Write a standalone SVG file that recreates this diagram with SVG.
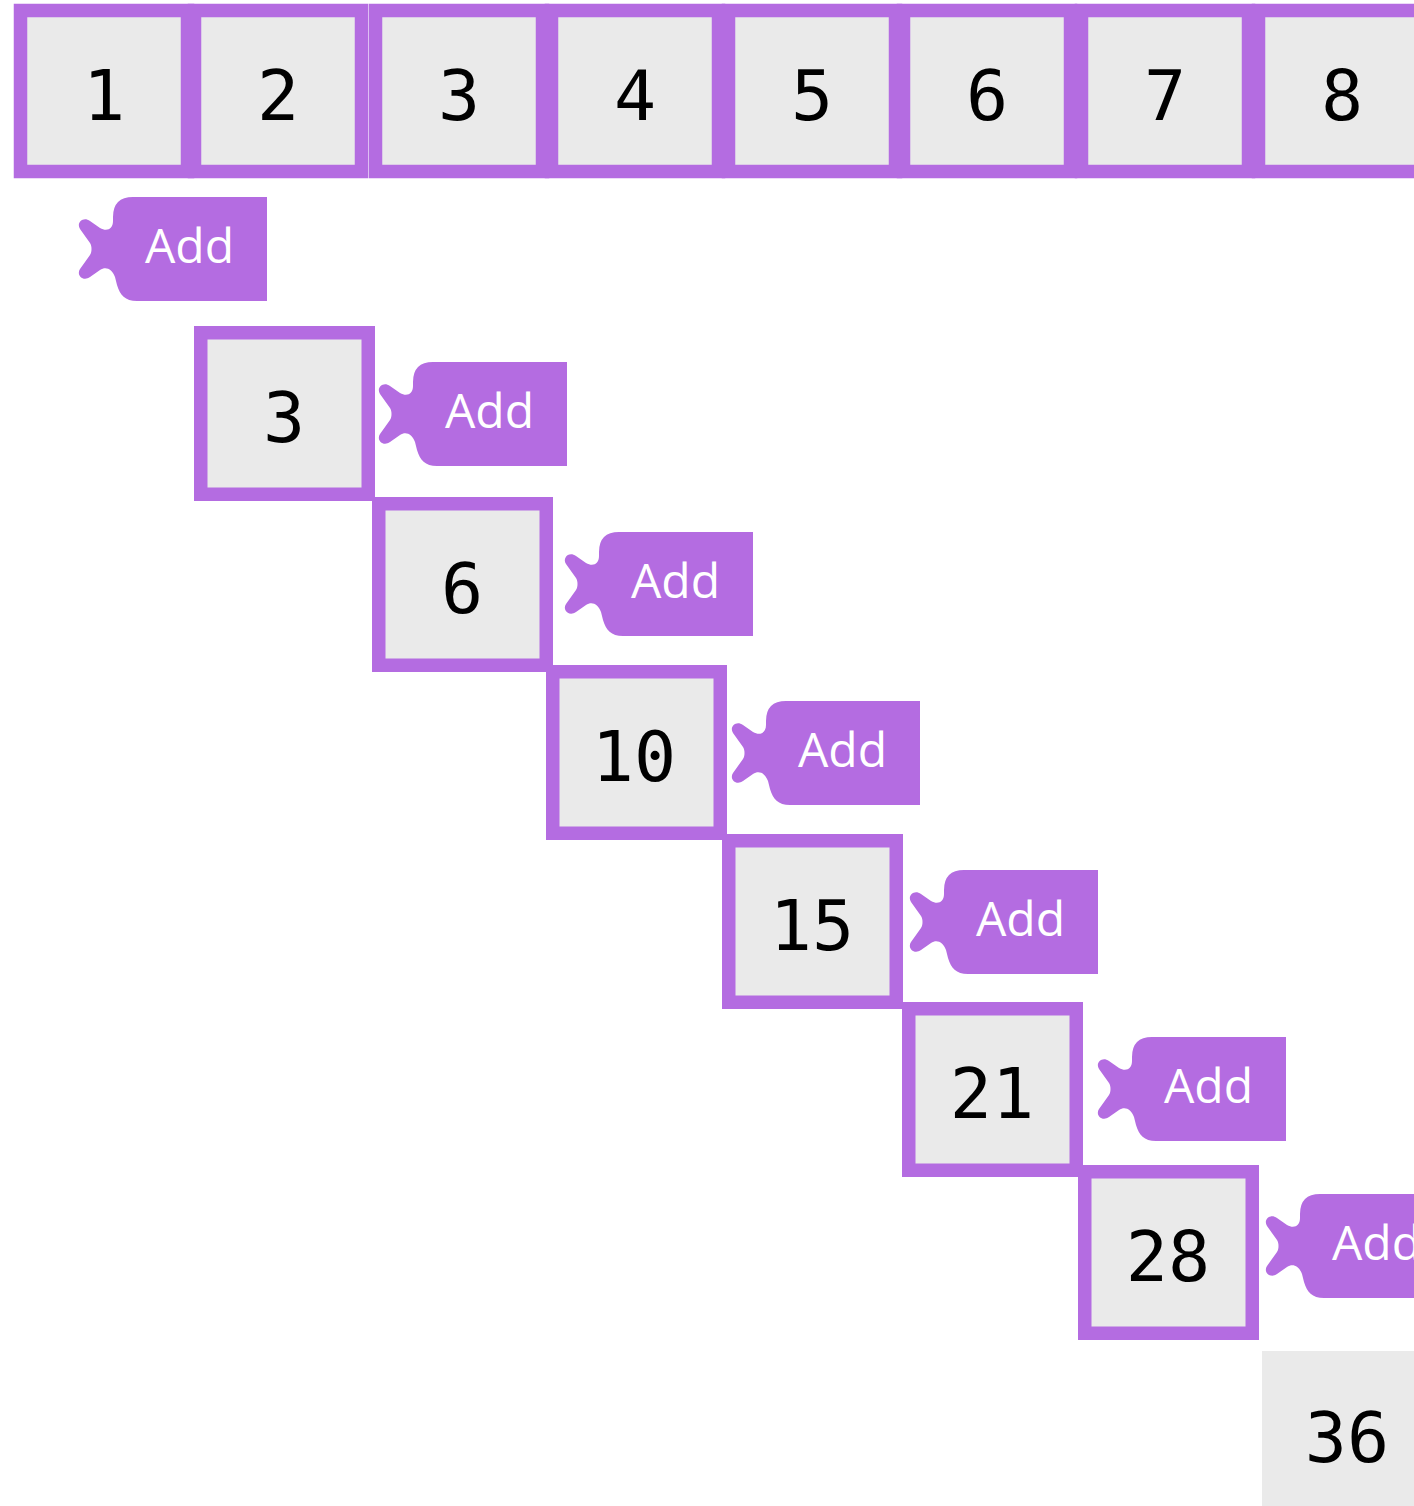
<svg xmlns="http://www.w3.org/2000/svg" width="1414" height="1506" viewBox="0 0 1414 1506">
<style>
.box{fill:#EAEAEA;stroke:#B46CE1;stroke-width:13.5}
.res{fill:#EAEAEA}
.num{font-family:"DejaVu Sans Mono","Liberation Mono",monospace;font-size:70px;fill:#000;text-anchor:middle}
.tag{fill:#B46CE1}
.add{font-family:"Open Sans","Liberation Sans",sans-serif;font-size:48px;fill:#fff}
</style>
<defs>
<path id="tagShape" d="M154,0 H20 Q0,0 0,20 V24 C0,32 -6,35 -13,31 L-23,24 C-30,19 -37,26 -33,32 L-23,46 C-21,49 -21,55 -23,58 L-33,72 C-37,78 -30,85 -23,80 L-13,73 C-7,69 -1,72 2,80 L4,88 C7,98 12,104 24,104 H154 Z"/>
</defs>
<rect width="1414" height="1506" fill="#fff"/>
<g id="connectors"/>
<g id="row">
<g id="in1"><rect class="box" x="20.5" y="10.5" width="167" height="161"/><text class="num" x="104" y="120">1</text></g>
<g id="in2"><rect class="box" x="194.5" y="10.5" width="167" height="161"/><text class="num" x="278" y="120">2</text></g>
<g id="in3"><rect class="box" x="375.5" y="10.5" width="167" height="161"/><text class="num" x="459" y="120">3</text></g>
<g id="in4"><rect class="box" x="551.5" y="10.5" width="167" height="161"/><text class="num" x="635" y="120">4</text></g>
<g id="in5"><rect class="box" x="728.5" y="10.5" width="167" height="161"/><text class="num" x="812" y="120">5</text></g>
<g id="in6"><rect class="box" x="903.5" y="10.5" width="167" height="161"/><text class="num" x="987" y="120">6</text></g>
<g id="in7"><rect class="box" x="1081.5" y="10.5" width="167" height="161"/><text class="num" x="1165" y="120">7</text></g>
<g id="in8"><rect class="box" x="1258.5" y="10.5" width="167" height="161"/><text class="num" x="1342" y="120">8</text></g>
</g>
<g id="tags">
<g id="add1"><use href="#tagShape" class="tag" x="113" y="197"/><text class="add" x="145" y="263">Add</text></g>
<g id="add2"><use href="#tagShape" class="tag" x="413" y="362"/><text class="add" x="445" y="428">Add</text></g>
<g id="add3"><use href="#tagShape" class="tag" x="599" y="532"/><text class="add" x="631" y="598">Add</text></g>
<g id="add4"><use href="#tagShape" class="tag" x="766" y="701"/><text class="add" x="798" y="767">Add</text></g>
<g id="add5"><use href="#tagShape" class="tag" x="944" y="870"/><text class="add" x="976" y="936">Add</text></g>
<g id="add6"><use href="#tagShape" class="tag" x="1132" y="1037"/><text class="add" x="1164" y="1103">Add</text></g>
<g id="add7"><use href="#tagShape" class="tag" x="1300" y="1194"/><text class="add" x="1332" y="1260">Add</text></g>
</g>
<g id="sums">
<g id="s3"><rect class="box" x="200.75" y="332.75" width="167.5" height="161.5"/><text class="num" x="284" y="442">3</text></g>
<g id="s6"><rect class="box" x="378.75" y="503.75" width="167.5" height="161.5"/><text class="num" x="462" y="613">6</text></g>
<g id="s10"><rect class="box" x="552.75" y="671.75" width="167.5" height="161.5"/><text class="num" x="634" y="781">10</text></g>
<g id="s15"><rect class="box" x="728.75" y="840.75" width="167.5" height="161.5"/><text class="num" x="812" y="950">15</text></g>
<g id="s21"><rect class="box" x="908.75" y="1008.75" width="167.5" height="161.5"/><text class="num" x="992" y="1118">21</text></g>
<g id="s28"><rect class="box" x="1084.75" y="1171.75" width="167.5" height="161.5"/><text class="num" x="1168" y="1281">28</text></g>
<g id="s36"><rect class="res" x="1262" y="1351" width="170" height="170"/><text class="num" x="1347" y="1462">36</text></g>
</g>
</svg>
